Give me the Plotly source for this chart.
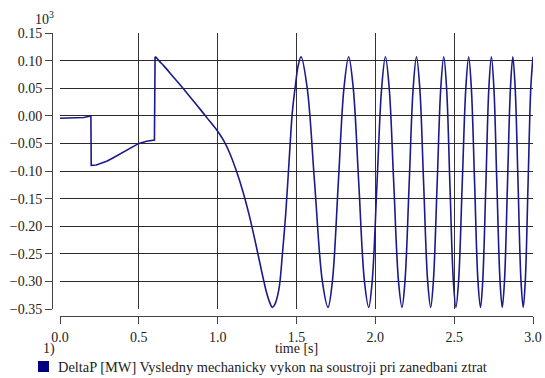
import plotly.graph_objects as go

# --- data: DeltaP [MW] (values in 10^3 MW) versus time [s] ---
# start-up section: flat, step down at 0.2 s, recovery, step up at 0.6 s
t_start = [0.000, 0.050, 0.100, 0.150, 0.196, 0.198, 0.230, 0.254, 0.300, 0.338,
           0.380, 0.422, 0.460, 0.500, 0.549, 0.599, 0.603]
p_start = [-0.0044, -0.0042, -0.0038, -0.0030, -0.0005, -0.0897, -0.0890, -0.0866,
           -0.0818, -0.0760, -0.0695, -0.0625, -0.0560, -0.0500, -0.0460, -0.0440, 0.1070]

# swing section after 0.6 s
t_swing = [0.603, 0.612, 0.630, 0.660, 0.720, 0.780, 0.840, 0.900, 0.950, 1.000,
           1.040, 1.080, 1.120, 1.160, 1.200, 1.240, 1.280, 1.310, 1.330, 1.346,
           1.362, 1.388, 1.411, 1.432, 1.447, 1.460, 1.474, 1.494, 1.510, 1.529,
           1.568, 1.6145, 1.664, 1.700,
           1.7275, 1.7655, 1.801, 1.831,
           1.860, 1.8945, 1.931, 1.958,
           1.980, 2.011, 2.040, 2.064,
           2.088, 2.1165, 2.147, 2.169,
           2.188, 2.215, 2.240, 2.261,
           2.282, 2.306, 2.332, 2.351,
           2.368, 2.3925, 2.415, 2.434,
           2.452, 2.4725, 2.495, 2.511,
           2.528, 2.5515, 2.574, 2.592,
           2.609, 2.6295, 2.651, 2.667,
           2.681, 2.7015, 2.720, 2.736,
           2.752, 2.7705, 2.791, 2.805,
           2.819, 2.8385, 2.857, 2.872,
           2.887, 2.905, 2.924, 2.938,
           2.951, 2.969, 2.986, 3.000]
p_swing = [0.107, 0.105, 0.099, 0.090, 0.070, 0.050, 0.029, 0.008, -0.010, -0.028,
           -0.046, -0.070, -0.101, -0.137, -0.180, -0.230, -0.283, -0.320, -0.338, -0.347,
           -0.342, -0.315, -0.249, -0.176, -0.110, -0.050, 0.008, 0.057, 0.090, 0.107,
           0.050, -0.120, -0.300, -0.347,
           -0.300, -0.120, 0.050, 0.107,
           0.050, -0.120, -0.300, -0.347,
           -0.300, -0.120, 0.050, 0.107,
           0.050, -0.120, -0.300, -0.347,
           -0.300, -0.120, 0.050, 0.107,
           0.050, -0.120, -0.300, -0.347,
           -0.300, -0.120, 0.050, 0.107,
           0.050, -0.120, -0.300, -0.347,
           -0.300, -0.120, 0.050, 0.107,
           0.050, -0.120, -0.300, -0.347,
           -0.300, -0.120, 0.050, 0.107,
           0.050, -0.120, -0.300, -0.347,
           -0.300, -0.120, 0.050, 0.107,
           0.050, -0.120, -0.300, -0.347,
           -0.300, -0.120, 0.050, 0.107]

x_ticks = [0.0, 0.5, 1.0, 1.5, 2.0, 2.5, 3.0]
x_labels = ["0.0", "0.5", "1.0", "1.5", "2.0", "2.5", "3.0"]
y_ticks = [0.15, 0.10, 0.05, 0.00, -0.05, -0.10, -0.15, -0.20, -0.25, -0.30, -0.35]
y_labels = ["0.15", "0.10", "0.05", "0.00", "\u22120.05", "\u22120.10", "\u22120.15",
            "\u22120.20", "\u22120.25", "\u22120.30", "\u22120.35"]

series_name = "DeltaP [MW] Vysledny mechanicky vykon na soustroji pri zanedbani ztrat"

# --- page geometry ---
W, H = 545, 378
L, R, T, B = 52, 12, 33, 62
PW, PH = W - L - R, H - T - B


def fx(px):
    return (px - L) / PW


def fy(py):
    return (H - B - py) / PH


LINE = "#1a1a8a"
FONT = "Liberation Serif, Times New Roman, serif"
INK = "#222222"

fig = go.Figure()
fig.add_trace(go.Scatter(x=t_start, y=p_start, mode="lines",
                         line=dict(color=LINE, width=1.6), showlegend=False,
                         hoverinfo="skip"))
fig.add_trace(go.Scatter(x=t_swing, y=p_swing, mode="lines",
                         line=dict(color=LINE, width=1.6, shape="spline", smoothing=1.0),
                         showlegend=False, name=series_name))

fig.update_layout(
    width=W, height=H,
    margin=dict(l=L, r=R, t=T, b=B, pad=0, autoexpand=False),
    paper_bgcolor="white", plot_bgcolor="white",
    font=dict(family=FONT, size=14, color=INK),
    showlegend=False,
    xaxis=dict(
        domain=[fx(60), 1.0], range=[0, 3], anchor="free", position=0,
        automargin=False,
        tickvals=x_ticks, ticktext=x_labels,
        showgrid=True, gridcolor="#333333", gridwidth=1, zeroline=False,
        showline=True, linecolor="#444444", linewidth=1,
        ticks="outside", ticklen=7, tickcolor="#444444",
        ticklabelstandoff=1,
        tickfont=dict(family=FONT, size=14, color=INK),
    ),
    yaxis=dict(
        domain=[fy(309), 1.0], range=[-0.35, 0.15], anchor="free", position=0,
        automargin=False,
        tickvals=y_ticks, ticktext=y_labels,
        showgrid=True, gridcolor="#2a2a2a", gridwidth=1, zeroline=False,
        showline=True, linecolor="#444444", linewidth=1,
        ticks="outside", ticklen=7, tickcolor="#444444",
        tickfont=dict(family=FONT, size=14, color=INK),
    ),
)

fig.add_annotation(xref="paper", yref="paper", x=fx(33), y=fy(18),
                   text="10<sup>3</sup>", showarrow=False, xanchor="left",
                   yanchor="middle", font=dict(family=FONT, size=14, color=INK))
fig.add_annotation(xref="paper", yref="paper", x=fx(42), y=fy(348.5),
                   text="1)", showarrow=False, xanchor="left", yanchor="middle",
                   borderpad=0, font=dict(family=FONT, size=14, color=INK))
fig.add_annotation(xref="x", yref="paper", x=1.5, y=fy(348.5),
                   text="time [s]", showarrow=False, xanchor="center",
                   yanchor="middle", borderpad=0,
                   font=dict(family=FONT, size=14, color=INK))

# legend row
fig.add_shape(type="rect", xref="paper", yref="paper",
              x0=fx(38), x1=fx(49), y0=fy(372), y1=fy(361),
              fillcolor="#000080", line=dict(width=0))
fig.add_annotation(xref="paper", yref="paper", x=fx(57), y=fy(367),
                   text=series_name, showarrow=False, xanchor="left",
                   yanchor="middle", borderpad=0,
                   font=dict(family=FONT, size=14.4, color=INK))

fig.write_html("out.html")
